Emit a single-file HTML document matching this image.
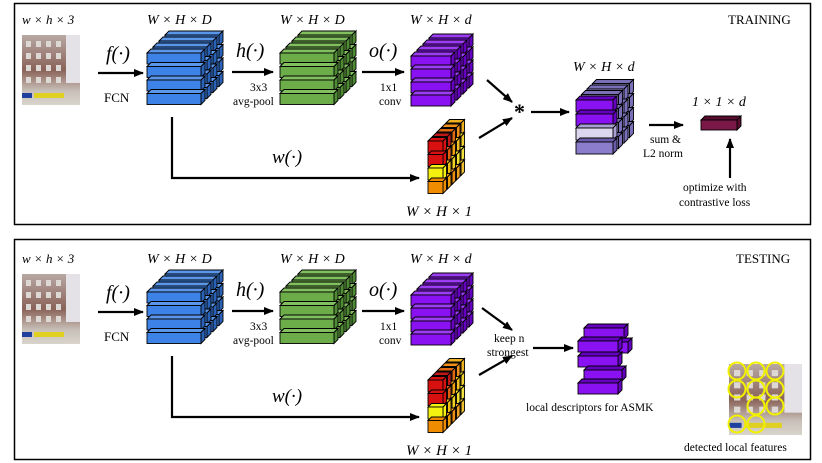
<!DOCTYPE html>
<html><head><meta charset="utf-8"><style>
html,body{margin:0;padding:0;background:#fff;}
svg{display:block;}
text{font-family:"Liberation Serif",serif;fill:#000;}
.m{font-style:italic;font-size:16px;}
.s{font-size:11.5px;}
</style></head><body>
<svg id="sv" width="822" height="463" viewBox="0 0 822 463" xmlns="http://www.w3.org/2000/svg">
<defs>
<marker id="ar" markerWidth="10" markerHeight="8" refX="9" refY="4" orient="auto" markerUnits="userSpaceOnUse"><path d="M0,0 L10,4 L0,8 Z" fill="#000"/></marker>
<linearGradient id="ph" x1="0" y1="0" x2="0" y2="1"><stop offset="0" stop-color="#b8a8a4"/><stop offset="0.5" stop-color="#8a6258"/><stop offset="0.8" stop-color="#c8c0b8"/><stop offset="1" stop-color="#d8d4cc"/></linearGradient>
</defs>
<rect x="14.5" y="3.5" width="796" height="221" fill="none" stroke="#000" stroke-width="1.5"/>
<rect x="14.5" y="239.5" width="796" height="220" fill="none" stroke="#000" stroke-width="1.5"/>
<g id="shapes"></g>
<g id="txt">
<text x="22" y="24" class="m" style="font-size:13px">w × h × 3</text>
<text x="147" y="24" class="m" style="font-size:14px">W × H × D</text>
<text x="280" y="24" class="m" style="font-size:14px">W × H × D</text>
<text x="410" y="24" class="m" style="font-size:14px">W × H × d</text>
<text x="728" y="24" style="font-size:13px">TRAINING</text>
<text x="106" y="60" class="m" style="font-size:20px">f(·)</text>
<text x="104" y="102" class="s" style="font-size:13px">FCN</text>
<text x="236" y="57" class="m" style="font-size:20px">h(·)</text>
<text x="250" y="91" class="s">3x3</text>
<text x="233" y="105" class="s">avg-pool</text>
<text x="369" y="57" class="m" style="font-size:20px">o(·)</text>
<text x="380" y="91" class="s">1x1</text>
<text x="379" y="105" class="s">conv</text>
<text x="272" y="163" class="m" style="font-size:19px">w(·)</text>
<text x="406" y="216" class="m" style="font-size:15px">W × H × 1</text>
<text x="514" y="119" style="font-size:22px;font-weight:bold">*</text>
<text x="573" y="71" class="m" style="font-size:14px">W × H × d</text>
<text x="692" y="106" class="m" style="font-size:14px">1 × 1 × d</text>
<text x="650" y="143" class="s">sum &amp;</text>
<text x="643" y="157" class="s">L2 norm</text>
<text x="683" y="191" class="s">optimize with</text>
<text x="679" y="206" class="s">contrastive loss</text>
<text x="22" y="263" class="m" style="font-size:13px">w × h × 3</text>
<text x="147" y="263" class="m" style="font-size:14px">W × H × D</text>
<text x="280" y="263" class="m" style="font-size:14px">W × H × D</text>
<text x="410" y="263" class="m" style="font-size:14px">W × H × d</text>
<text x="736" y="263" style="font-size:13px">TESTING</text>
<text x="106" y="299" class="m" style="font-size:20px">f(·)</text>
<text x="104" y="341" class="s" style="font-size:13px">FCN</text>
<text x="236" y="296" class="m" style="font-size:20px">h(·)</text>
<text x="250" y="330" class="s">3x3</text>
<text x="233" y="344" class="s">avg-pool</text>
<text x="369" y="296" class="m" style="font-size:20px">o(·)</text>
<text x="380" y="330" class="s">1x1</text>
<text x="379" y="344" class="s">conv</text>
<text x="272" y="402" class="m" style="font-size:19px">w(·)</text>
<text x="406" y="455" class="m" style="font-size:15px">W × H × 1</text>
<text x="494" y="342" class="s">keep n</text>
<text x="487" y="356" class="s">strongest</text>
<text x="526" y="411" class="s">local descriptors for ASMK</text>
<text x="684" y="451" class="s">detected local features</text>
</g>
</svg>
<script>
var NS="http://www.w3.org/2000/svg",G=document.getElementById('shapes');
function el(t,a){var e=document.createElementNS(NS,t);for(var k in a)e.setAttribute(k,a[k]);G.appendChild(e);return e;}
function bar(x,y,w,h,d,f,s,t){
 el('polygon',{points:[x,y,x+d,y-d,x+w+d,y-d,x+w,y].join(','),fill:t||s,stroke:'#000','stroke-width':0.9});
 el('polygon',{points:[x+w,y,x+w+d,y-d,x+w+d,y+h-d,x+w,y+h].join(','),fill:s,stroke:'#000','stroke-width':0.9});
 el('rect',{x:x,y:y,width:w,height:h,fill:f,stroke:'#000','stroke-width':0.9});
}
function stack(x,y,w,h,pitch,rows,layers,dx,dy,d,col){
 for(var L=layers-1;L>=0;L--)for(var r=0;r<rows;r++){var c=col(L,r);bar(x+L*dx,y+L*dy+r*pitch,w,h,d,c[0],c[1],c[2]);}
}
function arrow(pts){el('polyline',{points:pts.join(','),fill:'none',stroke:'#000','stroke-width':2.2,'marker-end':'url(#ar)'});}
var blue=function(){return['#3d82e6','#2a62b8','#5a96ea'];},
green=function(){return['#6cad4a','#4f8a34','#82bf5e'];},
purp=function(){return['#8a12f2','#6500c0','#9c3cf4'];};
var wc=[['#d81010','#d81010','#f4f010','#f08c00'],['#c01818','#e06010','#f0c010','#f0a000'],['#e06a10','#f0a010','#f0d020','#f09010'],['#f09018','#f0c020','#f0e030','#f0a020'],['#f0b020','#f0d030','#f0e040','#f0c030']];
function photo(x,y,W,H){
 var sx=W/58,sy=H/70;
 el('rect',{x:x,y:y,width:W,height:H,fill:'url(#ph)'});
 el('rect',{x:x+44*sx,y:y,width:14*sx,height:48*sy,fill:'#e4e2e6'});
 for(var i=0;i<4;i++)for(var j=0;j<4;j++)el('rect',{x:x+(4+j*10)*sx,y:y+(6+i*12)*sy,width:5*sx,height:6*sy,fill:'#ddd8d4'});
 el('rect',{x:x,y:y+58*sy,width:10*sx,height:5*sy,fill:'#2040a0'});
 el('rect',{x:x+12*sx,y:y+58*sy,width:30*sx,height:5*sy,fill:'#e0d020'});
}
function panel(o){
 photo(22,35+o,58,70);
 stack(147,53+o,54,11,13.5,4,4,6,-6,4,blue);
 stack(280,53+o,54,11,13.5,4,4,6,-6,4,green);
 stack(411,56+o,40,11,13,4,4,6,-6,4,purp);
 stack(428,141+o,15,12,13.5,4,5,4.5,-4.5,3.5,function(L,r){var c=wc[L][r];return[c,c,c];});
 arrow([98,73+o,143,73+o]);arrow([232,72+o,273,72+o]);arrow([362,72+o,404,72+o]);
 arrow([172,117+o,172,178+o,419,178+o]);
}
panel(0);panel(239);
arrow([487,80,512,102]);arrow([479,138,512,118]);arrow([531,112,569,112]);
var rc=[['#8a12f2','#6500c0'],['#8a12f2','#6500c0'],['#dcd6ee','#a8a0d0'],['#8c7ccc','#6a5caa']];
stack(576,100,37,12,14,4,4,5.5,-5.5,4,function(L,r){return L==0?[rc[r][0],rc[r][1]]:['#9c92d4','#7a70b8'];});
arrow([649,125,683,125]);
bar(701,120,36,10,4,'#7a1848','#5a0c30');
arrow([730,178,730,139]);
arrow([482,308,512,330]);arrow([479,375,512,356]);arrow([533,348,573,348]);
bar(584,328,40,11,4,'#8a12f2','#6500c0');bar(590,342,38,11,4,'#8a12f2','#6500c0');
bar(578,341,40,11,4,'#8a12f2','#6500c0');bar(578,356,40,11,4,'#8a12f2','#6500c0');
bar(584,370,38,11,4,'#8a12f2','#6500c0');bar(578,383,40,11,4,'#8a12f2','#6500c0');
photo(729,364,73,71);
[[737,371],[756,371],[775,371],[737,389],[756,389],[775,389],[756,406],[775,406],[737,424],[756,424]].forEach(function(p){el('circle',{cx:p[0],cy:p[1],r:8.5,fill:'none',stroke:'#f0f000','stroke-width':2});});
</script>
</body></html>
